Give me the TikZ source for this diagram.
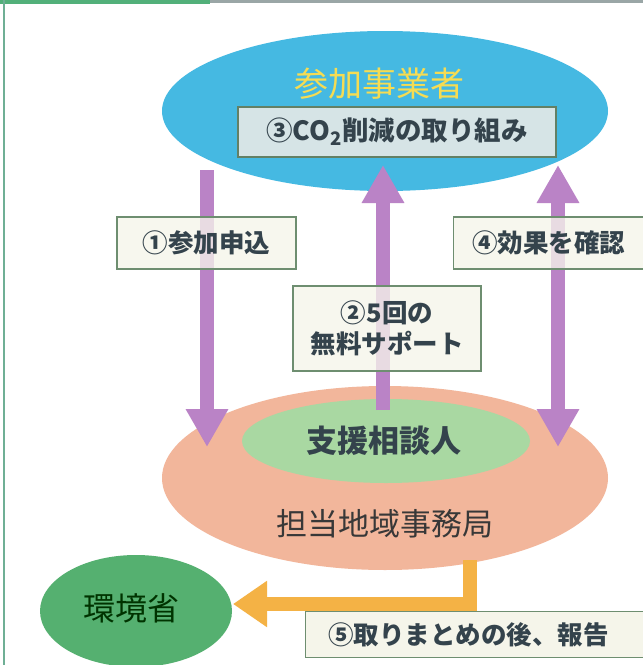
\documentclass[tikz,border=0pt]{standalone}
\usepackage{fontspec}
\setmainfont{Noto Sans CJK JP}
\usetikzlibrary{shapes.geometric,arrows.meta}
\definecolor{skyb}{HTML}{45B9E2}
\definecolor{salmon}{HTML}{F2B69B}
\definecolor{lgreen}{HTML}{A9D8A2}
\definecolor{mgreen}{HTML}{55B070}
\definecolor{purp}{HTML}{BA83C6}
\definecolor{orng}{HTML}{F4B245}
\definecolor{boxbd}{HTML}{6E8E70}
\definecolor{cream}{HTML}{F5F5EA}
\definecolor{bluebox}{HTML}{D6E4E6}
\definecolor{txt}{HTML}{34434C}
\definecolor{ttl}{HTML}{F6DC52}
\definecolor{frgreen}{HTML}{52B07A}
\definecolor{frgray}{HTML}{9AA6A6}
\definecolor{frleft}{HTML}{6FAF95}
\begin{document}
\begin{tikzpicture}[x=1pt,y=-1pt,
  oval/.style={ellipse,inner sep=0pt},
  lbl/.style={draw=boxbd,line width=1.4pt,fill=cream,fill opacity=0.78,text opacity=1,
    text=txt,font=\bfseries\fontsize{25.5}{31}\selectfont,inner sep=0pt,align=center},
  parr/.style={draw=purp,line width=14pt,-{Triangle[width=40pt,length=38pt]}},
  pdbl/.style={draw=purp,line width=14pt,{Triangle[width=40pt,length=38pt]}-{Triangle[width=40pt,length=38pt]}},
  oarr/.style={draw=orng,line width=14pt,-{Triangle[width=44pt,length=34pt]}}]
\useasboundingbox (0,0) rectangle (643,665);
\fill[white] (0,0) rectangle (643,665);
% frame
\draw[frgray,line width=3pt] (205,1.5) -- (643,1.5);
\draw[frgreen,line width=4pt] (0,2) -- (210,2);
\draw[frleft,line width=2pt] (3.5,0) -- (3.5,665);
% ellipses
\node[oval,fill=skyb,minimum width=446pt,minimum height=160pt] (biz) at (385,111) {};
\node[text=ttl,font=\fontsize{34}{34}\selectfont] (biztxt) at (379,84) {参加事業者};
\node[oval,fill=salmon,minimum width=446pt,minimum height=184pt] (office) at (385,478) {};
\node[oval,fill=lgreen,minimum width=288pt,minimum height=84pt] (adv) at (386,441) {};
\node[text=txt,font=\bfseries\fontsize{31}{31}\selectfont] (advtxt) at (384,441) {支援相談人};
\node[text=black!78,font=\fontsize{31}{31}\selectfont] (offtxt) at (385,524) {担当地域事務局};
\node[oval,fill=mgreen,minimum width=192pt,minimum height=112pt] (moe) at (136,611) {};
\node[text=black!80!green,font=\fontsize{32}{32}\selectfont] (moetxt) at (131,608) {環境省};
% arrow coordinates
\coordinate (a1s) at (207,170);
\coordinate (a1e) at (207,447);
\coordinate (a2s) at (383,410);
\coordinate (a2e) at (383,165);
\coordinate (a4s) at (558,165);
\coordinate (a4e) at (558,447);
\coordinate (a5s) at (470,560);
\coordinate (a5m) at (470,604);
\coordinate (a5e) at (233,604);
\draw[parr] (a1s) -- (a1e);
\draw[parr] (a2s) -- (a2e);
\draw[pdbl] (a4s) -- (a4e);
\draw[oarr] (a5s) -- (a5m) -- (a5e);
% boxes
\node[lbl,fill=bluebox,fill opacity=1,draw=boxbd!90!black,minimum width=318pt,minimum height=50pt,font=\bfseries\fontsize{26.5}{27}\selectfont] (b3) at (397,132) {③CO\textsubscript{2}削減の取り組み};
\node[lbl,minimum width=179pt,minimum height=52pt] (b1) at (206.5,243) {①参加申込};
\node[lbl,minimum width=188pt,minimum height=85pt] (b2) at (387,328.5) {②5回の\\無料サポート};
\node[lbl,minimum width=192pt,minimum height=52pt,anchor=west] (b4) at (453,243) {\hspace*{-2pt}④効果を確認};
\node[lbl,fill opacity=1,minimum width=340pt,minimum height=46pt,anchor=west] (b5) at (305,634.5) {\hspace*{-14pt}⑤取りまとめの後、報告};
\end{tikzpicture}
\end{document}
